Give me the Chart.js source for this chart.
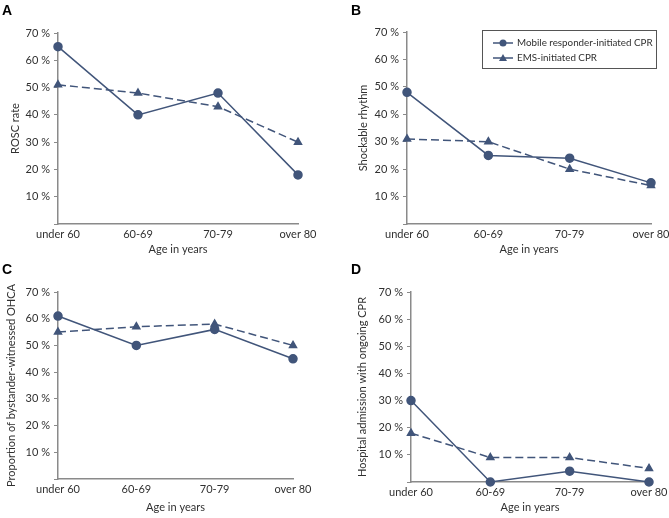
<!DOCTYPE html>
<html>
<head>
<meta charset="utf-8">
<script src="https://cdn.jsdelivr.net/npm/chart.js@4"></script>
<style>
  html, body { margin: 0; padding: 0; background: #fff; }
  #wrap { position: relative; width: 669px; height: 518px; overflow: hidden; }
  .panel { position: absolute; }
  .letter { position: absolute; font: bold 14px "Liberation Sans", Arial, sans-serif; color: #000; }
</style>
</head>
<body>
<div id="wrap"></div>
<script>
// data
const ageGroups = ['under 60', '60-69', '70-79', 'over 80'];
const seriesNames = ['Mobile responder-initiated CPR', 'EMS-initiated CPR'];

const roscMobile = [65, 40, 48, 18];
const roscEms = [51, 48, 43, 30];

const shockMobile = [48, 25, 24, 15];
const shockEms = [31, 30, 20, 14];

const witnessedMobile = [61, 50, 56, 45];
const witnessedEms = [55, 57, 58, 50];

const admissionMobile = [30, 0, 4, 0];
const admissionEms = [18, 9, 9, 5];

const yTicks = [0, 10, 20, 30, 40, 50, 60, 70];
const xTitle = 'Age in years';

// look
const lineColor = '#41557a';
const axisColor = '#8a8a8a';
const textColor = '#303030';
const fontFamily = 'Lato, "Open Sans", sans-serif';

const panels = [
    { letter: 'A', title: 'ROSC rate', mobile: roscMobile, ems: roscEms,
      left: 0, top: 0, w: 334, h: 259, yw: 58, xh: 35, padTop: 33, padRight: 36, yTitlePad: 9, xTitlePad: 3, legend: false },
    { letter: 'B', title: 'Shockable rhythm', mobile: shockMobile, ems: shockEms,
      left: 334, top: 0, w: 335, h: 259, yw: 73, xh: 35, padTop: 32, padRight: 18, yTitlePad: 23, xTitlePad: 3, legend: true },
    { letter: 'C', title: 'Proportion of bystander-witnessed OHCA', mobile: witnessedMobile, ems: witnessedEms,
      left: 0, top: 259, w: 334, h: 259, yw: 58, xh: 39, padTop: 33, padRight: 41, yTitlePad: 5, xTitlePad: 4, legend: false },
    { letter: 'D', title: 'Hospital admission with ongoing CPR', mobile: admissionMobile, ems: admissionEms,
      left: 334, top: 259, w: 335, h: 259, yw: 77, xh: 36, padTop: 33, padRight: 20, yTitlePad: 22, xTitlePad: 4, legend: false }
];

// small boxed legend like in panel B
const boxLegend = {
    id: 'boxLegend',
    afterDraw(chart, args, opts) {
        if (!opts.show) return;
        const ctx = chart.ctx;
        const x0 = opts.x, y0 = opts.y;
        ctx.save();
        ctx.strokeStyle = '#555';
        ctx.lineWidth = 1;
        ctx.strokeRect(x0 + 0.5, y0 + 0.5, opts.w, opts.h);
        chart.data.datasets.forEach((ds, i) => {
            const cy = y0 + 13 + i * 15;
            ctx.strokeStyle = lineColor;
            ctx.lineWidth = 1.5;
            ctx.setLineDash([]);
            ctx.beginPath();
            ctx.moveTo(x0 + 11, cy);
            ctx.lineTo(x0 + 31, cy);
            ctx.stroke();
            ctx.fillStyle = lineColor;
            ctx.beginPath();
            if (ds.pointStyle === 'triangle') {
                ctx.moveTo(x0 + 21, cy - 4);
                ctx.lineTo(x0 + 25, cy + 3);
                ctx.lineTo(x0 + 17, cy + 3);
                ctx.closePath();
            } else {
                ctx.arc(x0 + 21, cy, 3.5, 0, Math.PI * 2);
            }
            ctx.fill();
            ctx.fillStyle = textColor;
            ctx.font = '9.8px ' + fontFamily;
            ctx.textBaseline = 'middle';
            ctx.fillText(ds.label, x0 + 35, cy);
        });
        ctx.restore();
    }
};

const wrap = document.getElementById('wrap');

panels.forEach(p => {
    const div = document.createElement('div');
    div.className = 'panel';
    div.style.left = p.left + 'px';
    div.style.top = p.top + 'px';
    div.style.width = p.w + 'px';
    div.style.height = p.h + 'px';
    const canvas = document.createElement('canvas');
    div.appendChild(canvas);
    wrap.appendChild(div);

    const letter = document.createElement('div');
    letter.className = 'letter';
    letter.textContent = p.letter;
    letter.style.left = (p.left + (p.left > 0 ? 17 : 2)) + 'px';
    letter.style.top = (p.top + 2) + 'px';
    wrap.appendChild(letter);

    new Chart(canvas, {
        type: 'line',
        data: {
            labels: ageGroups,
            datasets: [{
                label: seriesNames[0],
                data: p.mobile,
                borderColor: lineColor,
                backgroundColor: lineColor,
                borderWidth: 1.5,
                pointStyle: 'circle',
                pointRadius: 4,
                tension: 0,
                clip: false
            }, {
                label: seriesNames[1],
                data: p.ems,
                borderColor: lineColor,
                backgroundColor: lineColor,
                borderWidth: 1.5,
                borderDash: [8, 4],
                pointStyle: 'triangle',
                pointRadius: 4,
                tension: 0,
                clip: false
            }]
        },
        options: {
            responsive: true,
            maintainAspectRatio: false,
            animation: false,
            layout: { padding: { top: p.padTop, right: p.padRight, left: 0, bottom: 0 } },
            plugins: {
                legend: { display: false },
                tooltip: { enabled: false },
                boxLegend: { show: p.legend, x: 148, y: 30, w: 174, h: 38 }
            },
            scales: {
                x: {
                    offset: false,
                    grid: { display: false, drawTicks: false },
                    border: { color: axisColor, width: 1.5 },
                    ticks: { color: textColor, font: { family: fontFamily, size: 11 }, padding: 4, maxRotation: 0 },
                    title: { display: true, text: xTitle, color: textColor, font: { family: fontFamily, size: 11 }, padding: { top: 0, bottom: p.xTitlePad } },
                    afterFit: s => { s.height = p.xh; s.paddingLeft = 0; s.paddingRight = 0; }
                },
                y: {
                    min: 0,
                    max: 70,
                    afterBuildTicks: s => { s.ticks = yTicks.map(v => ({ value: v })); },
                    grid: { display: true, drawOnChartArea: false, tickLength: 4, color: axisColor, lineWidth: 1 },
                    border: { color: axisColor, width: 1.5 },
                    ticks: {
                        color: textColor, font: { family: fontFamily, size: 11 }, padding: 4,
                        callback: v => v === 0 ? '' : v + ' %'
                    },
                    title: { display: true, text: p.title, color: textColor, font: { family: fontFamily, size: 11 }, padding: { top: p.yTitlePad, bottom: 0 } },
                    afterFit: s => { s.width = p.yw; s.paddingTop = 0; s.paddingBottom = 0; }
                }
            }
        },
        plugins: [boxLegend]
    });
});
</script>
</body>
</html>
